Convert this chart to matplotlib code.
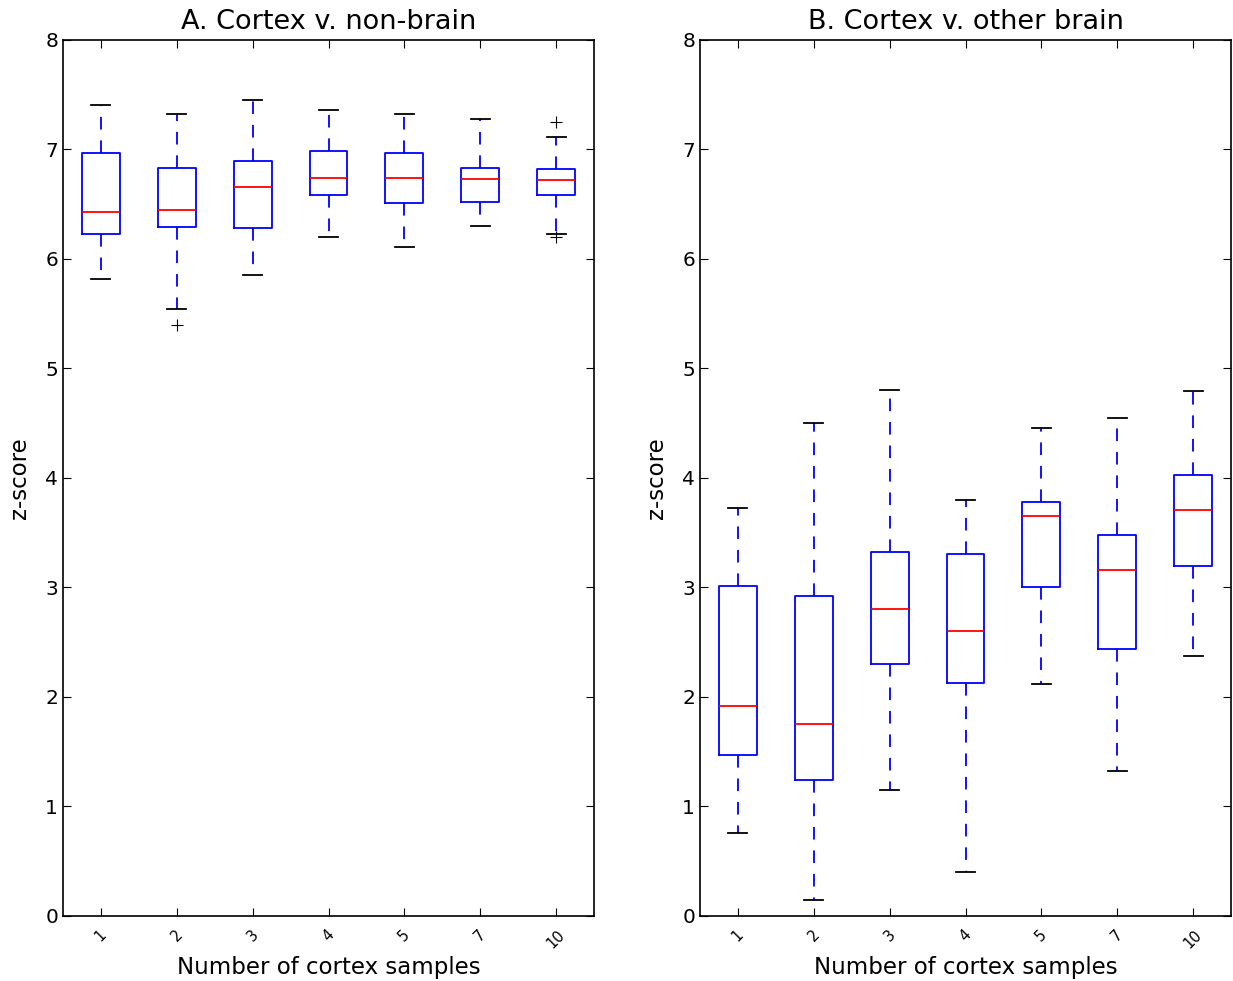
import matplotlib.pyplot as plt

# numero de muestras de corteza
n_samples = ["1", "2", "3", "4", "5", "7", "10"]

# A. Cortex v. non-brain  (q1, mediana, q3, bigotes, atipicos)
a_whislo = [5.82, 5.54, 5.85, 6.20, 6.11, 6.30, 6.23]
a_q1 = [6.23, 6.29, 6.28, 6.58, 6.51, 6.52, 6.58]
a_med = [6.43, 6.45, 6.66, 6.74, 6.74, 6.73, 6.72]
a_q3 = [6.97, 6.83, 6.89, 6.99, 6.97, 6.83, 6.82]
a_whishi = [7.41, 7.32, 7.45, 7.36, 7.32, 7.28, 7.11]
a_fliers = [[], [5.40], [], [], [], [], [7.25, 6.20]]

# B. Cortex v. other brain
b_whislo = [0.76, 0.15, 1.15, 0.40, 2.12, 1.32, 2.37]
b_q1 = [1.47, 1.24, 2.30, 2.13, 3.00, 2.44, 3.20]
b_med = [1.92, 1.75, 2.80, 2.60, 3.65, 3.16, 3.71]
b_q3 = [3.01, 2.92, 3.32, 3.31, 3.78, 3.48, 4.03]
b_whishi = [3.73, 4.50, 4.80, 3.80, 4.46, 4.55, 4.79]
b_fliers = [[], [], [], [], [], [], []]


def make_stats(lo, q1, med, q3, hi, fl):
    return [dict(whislo=lo[i], q1=q1[i], med=med[i], q3=q3[i], whishi=hi[i], fliers=fl[i])
            for i in range(len(med))]


fig = plt.figure(figsize=(12.33, 9.81), dpi=100, facecolor='white')
ax1 = fig.add_axes([0.0511, 0.0663, 0.4307, 0.893])
ax2 = fig.add_axes([0.5677, 0.0663, 0.4307, 0.893])

paneles = [
    (ax1, make_stats(a_whislo, a_q1, a_med, a_q3, a_whishi, a_fliers), "A. Cortex v. non-brain"),
    (ax2, make_stats(b_whislo, b_q1, b_med, b_q3, b_whishi, b_fliers), "B. Cortex v. other brain"),
]

for ax, stats, titulo in paneles:
    ax.bxp(stats, positions=range(1, len(n_samples) + 1), widths=0.5, capwidths=0.25,
           boxprops=dict(color='blue', linewidth=1.3),
           medianprops=dict(color='red', linewidth=1.3),
           whiskerprops=dict(color='blue', linewidth=1.3, linestyle=(0, (7, 6))),
           capprops=dict(color='black', linewidth=1.3),
           flierprops=dict(marker='+', markeredgecolor='black', markersize=9,
                           linestyle='none', markeredgewidth=0.8))
    ax.set_xlim(0.5, 7.5)
    ax.set_ylim(0, 8)
    ax.set_yticks(range(0, 9))
    ax.set_xticks(range(1, len(n_samples) + 1))
    ax.set_xticklabels(n_samples, rotation=45)
    ax.tick_params(direction='in', top=True, right=True, length=6, labelsize=14.5)
    ax.tick_params(axis='x', labelsize=10.5, pad=8)
    for s in ax.spines.values():
        s.set_linewidth(1.2)
    ax.set_title(titulo, fontsize=19.5, pad=8)
    ax.set_xlabel("Number of cortex samples", fontsize=16.5, labelpad=4)
    ax.set_ylabel("z-score", fontsize=16.5, labelpad=10)

fig.savefig("out.png", dpi=100, facecolor='white')
